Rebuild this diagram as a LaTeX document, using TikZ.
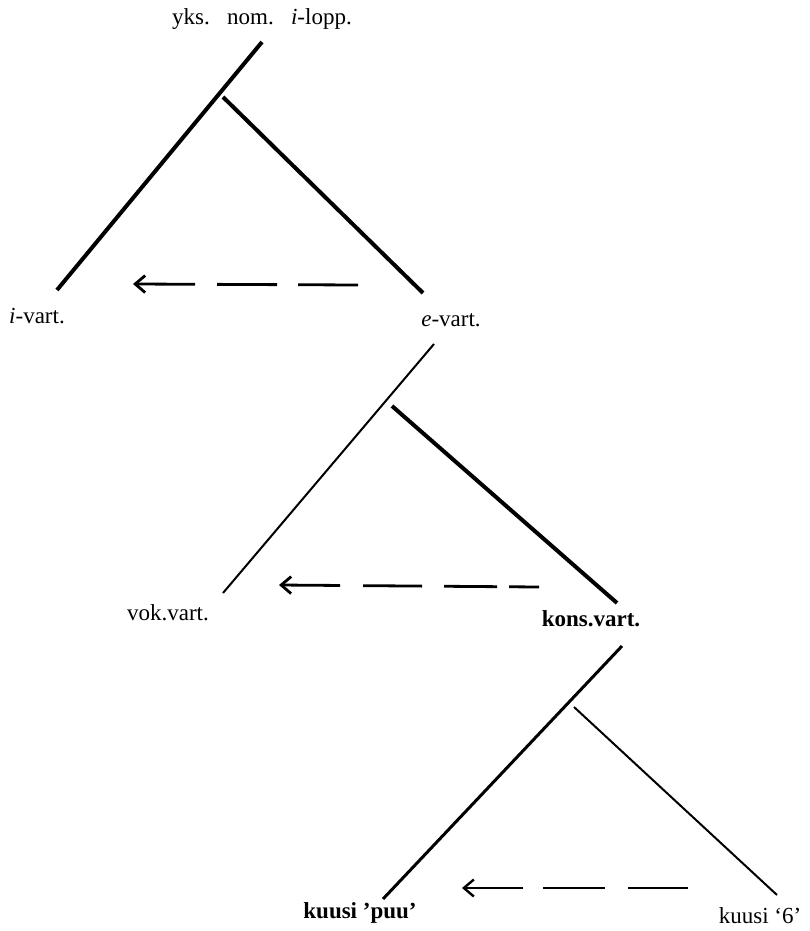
\documentclass[tikz,border=0pt]{standalone}
\usepackage{fontspec}
\setmainfont{Liberation Serif}
\usetikzlibrary{arrows.meta}
\begin{document}
\begin{tikzpicture}[x=1pt,y=-1pt,
  lbl/.style={inner sep=0pt, font=\fontsize{23}{27}\selectfont},
  blbl/.style={lbl, font=\fontsize{23}{27}\selectfont\bfseries},
  heavy/.style={line width=4pt},
  medium/.style={line width=3pt},
  light/.style={line width=2pt},
  darr/.style={line width=2.8pt, -{Straight Barb[length=10pt,width=17pt]}}
]
\useasboundingbox (0,0) rectangle (810,931);

% labels
\node[lbl] (top) at (262,19) {yks.\hspace{0.75em}nom.\hspace{0.75em}\textit{i}-lopp.};
\node[lbl] (ivart) at (37,316) {\textit{i}-vart.};
\node[lbl] (evart) at (451,320) {\textit{e}-vart.};
\node[lbl] (vok) at (168,613) {vok.vart.};
\node[blbl] (kons) at (591,619) {kons.vart.};
\node[blbl] (puu) at (360,913) {kuusi ’puu’};
\node[lbl] (six) at (760,916) {kuusi ‘6’};

% tree 1
\coordinate (t1a) at (262,42);
\coordinate (t1b) at (57,290);
\coordinate (t1c) at (223,97);
\coordinate (t1d) at (423,293);
\draw[heavy] (t1a) -- (t1b);
\draw[heavy] (t1c) -- (t1d);
\coordinate (a1s) at (358,285);
\coordinate (a1e) at (133,284);
\draw[darr, dash pattern=on 60pt off 21pt on 60pt off 22pt on 200pt] (a1s) -- (a1e);

% tree 2
\coordinate (t2a) at (434,344);
\coordinate (t2b) at (223,593);
\coordinate (t2c) at (392,406);
\coordinate (t2d) at (617,603);
\draw[light] (t2a) -- (t2b);
\draw[heavy] (t2c) -- (t2d);
\coordinate (a2s) at (539,587);
\coordinate (a2e) at (279,585);
\draw[darr, dash pattern=on 30pt off 12pt on 53pt off 22pt on 59pt off 23pt on 200pt] (a2s) -- (a2e);

% tree 3
\coordinate (t3a) at (622,646);
\coordinate (t3b) at (383,899);
\coordinate (t3c) at (574,707);
\coordinate (t3d) at (777,895);
\draw[medium] (t3a) -- (t3b);
\draw[light] (t3c) -- (t3d);
\coordinate (a3s) at (688,888);
\coordinate (a3e) at (462,888);
\draw[darr, line width=2.4pt, dash pattern=on 60pt off 23pt on 62pt off 20pt on 200pt] (a3s) -- (a3e);
\end{tikzpicture}
\end{document}
